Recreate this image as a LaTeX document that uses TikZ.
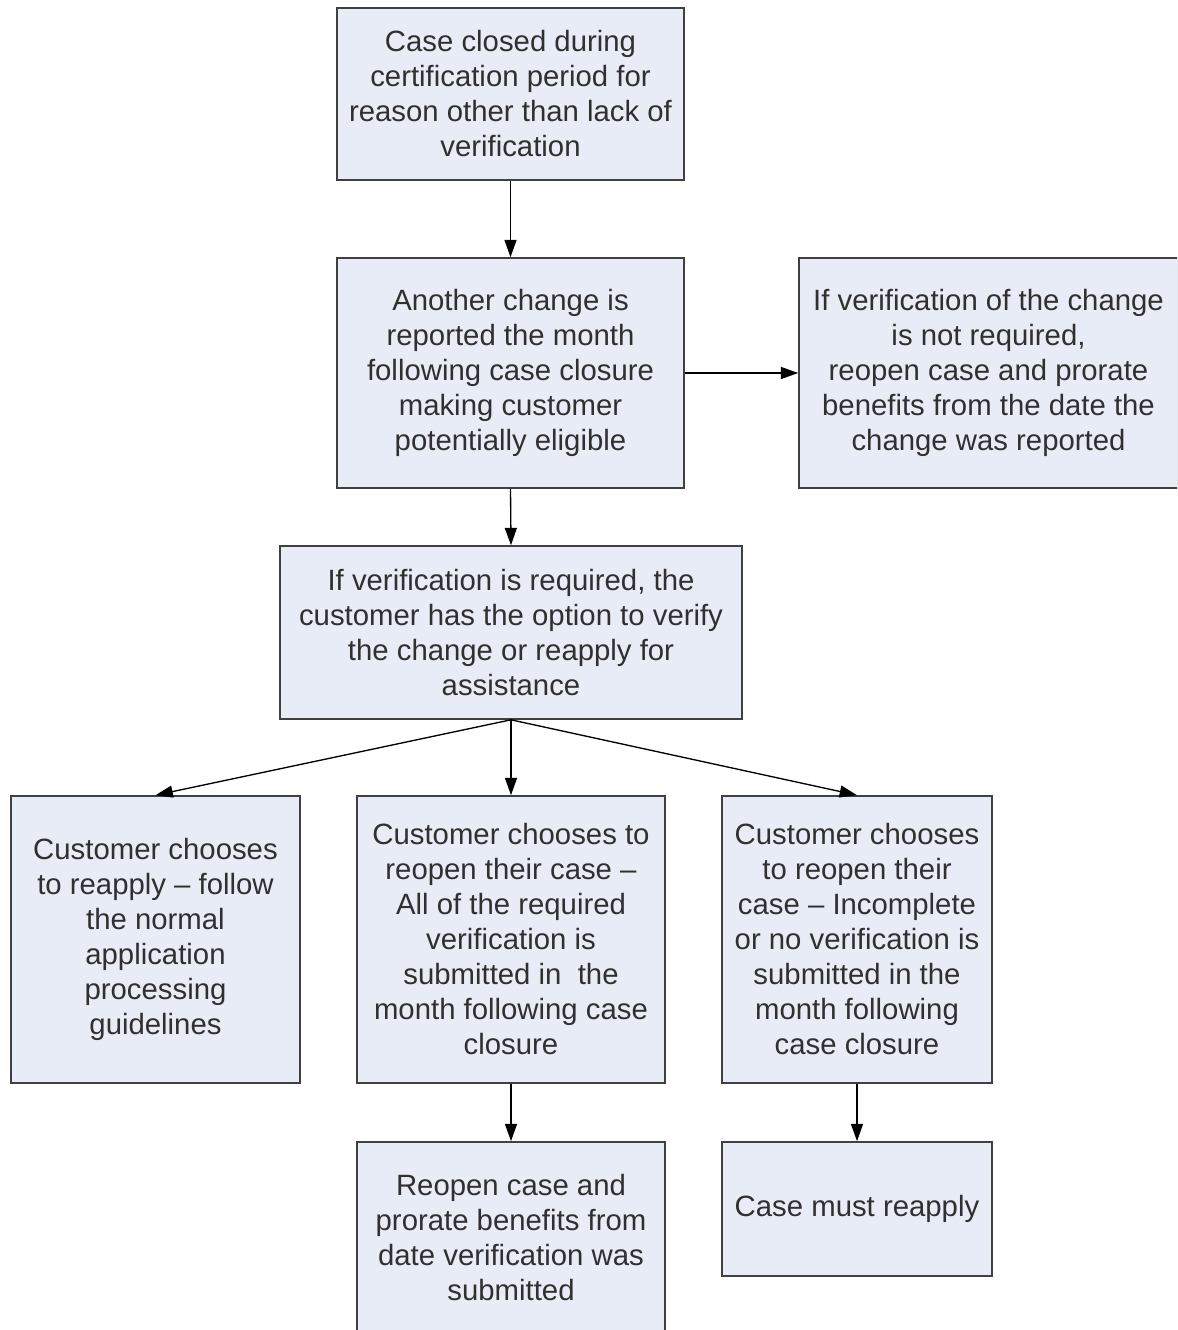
\documentclass[tikz,border=0pt]{standalone}
\usepackage{fontspec}
\setmainfont{Liberation Sans}
\usetikzlibrary{arrows.meta}
\definecolor{boxfill}{HTML}{E8ECF6}
\definecolor{boxline}{HTML}{404040}
\definecolor{txt}{HTML}{303030}
\begin{document}
\begin{tikzpicture}[x=0.75pt,y=-0.75pt,
 box/.style={draw=boxline, fill=boxfill, line width=1.2pt, inner sep=0pt, align=center, text=txt,
   font=\fontsize{22}{26.25}\selectfont},
 arr/.style={-{Triangle[length=13pt,width=9pt]}, line width=1pt, black}]
\useasboundingbox (0,0) rectangle (1177,1330);
\clip (0,0) rectangle (1177,1330);
\fill[white] (0,0) rectangle (1177,1330);

\node[box, minimum width=260.25pt, minimum height=129pt] (b1) at (510.5,94)
 {Case closed during\\certification period for\\reason other than lack of\\verification};
\node[box, minimum width=260.25pt, minimum height=172.5pt] (b2) at (510.5,373)
 {Another change is\\reported the month\\following case closure\\making customer\\potentially eligible};
\node[box, minimum width=284.25pt, minimum height=172.5pt] (b3) at (988.5,373)
 {If verification of the change\\is not required,\\reopen case and prorate\\benefits from the date the\\change was reported};
\node[box, minimum width=346.5pt, minimum height=129.75pt] (b4) at (511,632.5)
 {If verification is required, the\\customer has the option to verify\\the change or reapply for\\assistance};
\node[box, minimum width=216.75pt, minimum height=215.25pt] (b5) at (155.5,939.5)
 {Customer chooses\\to reapply – follow\\the normal\\application\\processing\\guidelines};
\node[box, minimum width=231pt, minimum height=215.25pt] (b6) at (511,939.5)
 {Customer chooses to\\reopen their case –\\All of the required\\verification is\\submitted in \ the\\month following case\\closure};
\node[box, minimum width=202.5pt, minimum height=215.25pt] (b7) at (857,939.5)
 {Customer chooses\\to reopen their\\case – Incomplete\\or no verification is\\submitted in the\\month following\\case closure};
\node[box, minimum width=231pt, minimum height=142.5pt] (b8) at (511,1237)
 {Reopen case and\\prorate benefits from\\date verification was\\submitted};
\node[box, minimum width=202.5pt, minimum height=100.5pt] (b9) at (857,1209)
 {Case must reapply};

\draw[arr] (b1.south) -- (b2.north);
\draw[arr] (b2.east) -- (b3.west);
\draw[arr] (b2.south) -- (b4.north);
\draw[arr] (b4.south) -- (b5.north);
\draw[arr] (b4.south) -- (b6.north);
\draw[arr] (b4.south) -- (b7.north);
\draw[arr] (b6.south) -- (b8.north);
\draw[arr] (b7.south) -- (b9.north);
\end{tikzpicture}
\end{document}
